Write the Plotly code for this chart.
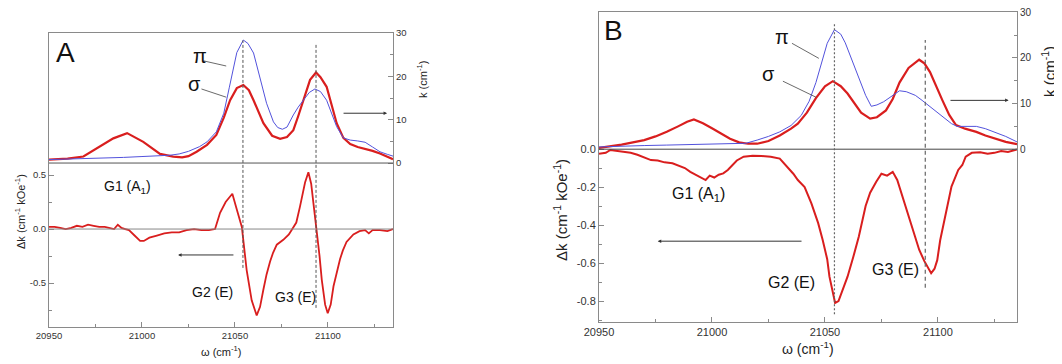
import plotly.graph_objects as go

# ---------------- Data: panel A ----------------
a_sig_w = [20950, 20960, 20968.5, 20977.4, 20984.6, 20992, 21000.7, 21009.7, 21016.8, 21021.6, 21025, 21029.4,
           21035, 21040, 21044, 21047.4, 21051, 21054.5, 21057.5, 21060, 21062.5, 21065.3, 21070, 21074.3,
           21078, 21081.4, 21084, 21086.8, 21090.4, 21093.6, 21096, 21099.3, 21102, 21104.7, 21108.3,
           21112, 21116, 21120, 21124, 21128, 21132, 21135]
a_sig_k = [0.8, 1.0, 1.5, 3.8, 5.7, 6.9, 4.9, 2.1, 1.5, 1.3, 1.6, 2.6,
           4.2, 6.5, 10.5, 14.5, 17.3, 18.0, 16.8, 14.5, 12.0, 9.2, 6.3, 5.6,
           6.0, 7.6, 10.8, 14.5, 19.2, 20.9, 19.8, 17.6, 13.5, 9.2, 5.8,
           4.4, 3.7, 3.3, 2.8, 2.2, 1.5, 0.9]

a_pi_w = [20950, 20960, 20970, 20980, 20990, 21000, 21010, 21015, 21020, 21025, 21031, 21035, 21040,
          21044, 21047, 21049, 21051, 21054.5, 21057, 21060, 21063.5, 21067, 21070.7, 21073, 21075.5,
          21078, 21081.4, 21084, 21086.8, 21090, 21093, 21096, 21099.3, 21102, 21104.7, 21108.3,
          21112, 21116, 21120, 21124, 21128, 21132, 21135]
a_pi_k = [0.8, 0.9, 1.0, 1.1, 1.3, 1.5, 1.6, 1.8, 2.1, 2.7, 3.8, 4.9, 7.2,
          11.5, 17.5, 21.8, 25.5, 28.4, 27.6, 25.4, 19.9, 13.8, 9.5, 8.2, 7.8,
          8.3, 11.1, 12.9, 14.5, 16.3, 17.1, 16.5, 14.5, 11.5, 8.4, 5.8,
          5.3, 5.1, 4.8, 3.7, 2.6, 2.0, 1.6]

a_dk_w = [20950, 20953, 20956, 20959, 20962, 20965, 20968, 20971, 20974, 20977, 20980, 20983, 20985, 20987,
          20989, 20991, 20993, 20996, 20999, 21001, 21004, 21008, 21012, 21016, 21020, 21024, 21028,
          21032, 21036, 21039.3, 21042, 21045, 21047.4, 21048.6, 21051, 21053.7, 21056.3, 21059,
          21061.7, 21063.5, 21065.3, 21067, 21068.9, 21070.5, 21072.5, 21076, 21079, 21081, 21083,
          21085, 21087.7, 21089.5, 21091, 21092.2, 21094, 21095.5, 21096.7, 21098.5, 21099.9,
          21101.5, 21103, 21105, 21106.5, 21108, 21110, 21113.7, 21117, 21120, 21122, 21124,
          21128, 21132, 21135]
a_dk = [0.02, 0.02, 0.01, 0.0, 0.01, 0.03, 0.02, 0.04, 0.03, 0.02, 0.02, 0.01, 0.0, 0.04,
        0.01, 0.0, -0.01, -0.06, -0.11, -0.11, -0.08, -0.06, -0.04, -0.03, -0.03, -0.01, 0.0,
        -0.01, -0.01, 0.0, 0.15, 0.25, 0.30, 0.327, 0.18, 0.02, -0.38, -0.66,
        -0.80, -0.72, -0.56, -0.42, -0.30, -0.22, -0.145, -0.10, -0.05, 0.0, 0.06,
        0.21, 0.43, 0.525, 0.42, 0.24, 0.0, -0.25, -0.47, -0.70, -0.78,
        -0.70, -0.53, -0.38, -0.28, -0.20, -0.12, -0.05, -0.02, -0.01, -0.04, -0.01,
        -0.01, -0.02, 0.0]

# ---------------- Data: panel B ----------------
b_sig_w = [20950, 20955, 20960, 20965, 20970, 20975, 20980, 20985, 20989, 20992, 20996, 21000, 21004,
           21008, 21012, 21016, 21020, 21025, 21030, 21035, 21038, 21042, 21046, 21050, 21053.5,
           21057, 21060, 21063, 21066, 21070, 21073, 21077, 21080, 21083, 21087, 21091.7, 21094,
           21096.5, 21099, 21102, 21105, 21108, 21112, 21117, 21121, 21125, 21130, 21135]
b_sig_k = [0.3, 0.6, 1.0, 1.5, 2.0, 2.8, 3.8, 5.0, 6.0, 6.5, 5.7, 4.6, 3.4,
           2.3, 1.5, 1.2, 1.2, 1.8, 3.0, 4.5, 5.6, 8.0, 11.2, 13.8, 14.9,
           13.8, 12.2, 10.0, 8.0, 6.7, 7.0, 8.5, 11.0, 14.6, 17.8, 19.6, 18.8,
           16.9, 14.0, 10.7, 7.5, 5.3, 4.5, 3.8, 3.0, 2.3, 1.6, 1.1]

b_pi_w = [20950, 20960, 20970, 20980, 20990, 21000, 21010, 21015, 21020, 21025, 21030, 21035, 21039.5,
          21043, 21046, 21049, 21051, 21054.2, 21057, 21059, 21062, 21065, 21068, 21070.5, 21073,
          21076, 21080, 21083, 21086, 21090, 21093, 21096.5, 21100, 21103, 21106, 21108.5, 21113,
          21117, 21121, 21125, 21130, 21135]
b_pi_k = [0.5, 0.7, 0.8, 0.9, 1.0, 1.0, 1.1, 1.3, 2.0, 2.8, 3.8, 5.2, 7.4,
          10.5, 14.6, 19.5, 23.2, 26.2, 25.2, 23.3, 19.5, 15.6, 11.8, 9.4, 9.7,
          10.4, 11.8, 12.8, 12.6, 11.8, 10.7, 9.3, 7.8, 6.6, 5.6, 5.0, 5.0,
          5.0, 4.5, 3.8, 2.8, 1.6]

b_dk_w = [20950, 20953, 20955, 20958, 20961, 20964, 20967, 20970, 20973, 20976, 20979, 20982.5, 20985,
          20988, 20990.4, 20993, 20995, 20997.2, 20999, 21001, 21003, 21005, 21007, 21009, 21011,
          21014, 21018, 21022, 21026, 21030, 21033, 21036, 21038, 21041, 21044, 21047, 21049,
          21051, 21052, 21053.5, 21054.5, 21056, 21058, 21060, 21062.5, 21065, 21068, 21070,
          21072.7, 21075, 21077.5, 21080, 21082, 21084.5, 21087, 21089.5, 21091.7, 21094, 21095.5,
          21097, 21098.5, 21099.7, 21101, 21102.8, 21104.5, 21106, 21109, 21110.8, 21112.3, 21115,
          21118.7, 21122, 21125, 21128, 21131, 21135]
b_dk = [-0.025, -0.02, -0.005, -0.01, -0.015, -0.02, -0.03, -0.045, -0.058, -0.06, -0.07, -0.075, -0.085,
        -0.10, -0.12, -0.135, -0.15, -0.163, -0.14, -0.15, -0.135, -0.128, -0.11, -0.084, -0.06,
        -0.04, -0.035, -0.037, -0.04, -0.05, -0.09, -0.13, -0.163, -0.20, -0.286, -0.39, -0.479,
        -0.58, -0.672, -0.76, -0.81, -0.80, -0.74, -0.672, -0.57, -0.46, -0.30, -0.23,
        -0.172, -0.13, -0.14, -0.12, -0.163, -0.26, -0.356, -0.45, -0.53, -0.59, -0.62,
        -0.654, -0.63, -0.585, -0.48, -0.373, -0.28, -0.198, -0.11, -0.084, -0.04, -0.02,
        -0.017, -0.025, -0.02, -0.01, -0.015, -0.002]

x_ticks = [20950, 21000, 21050, 21100]
x_ticktext = ["20950", "21000", "21050", "21100"]
x_minor = [20975, 21025, 21075, 21125]
k_ticks = [0, 10, 20, 30]
k_ticktext = ["0", "10", "20", "30"]
k_minor = [5, 15, 25]
a_dk_ticks = [-0.5, 0.0, 0.5]
a_dk_ticktext = ["-0.5", "0.0", "0.5"]
a_dk_minor = [-0.75, -0.25, 0.25]
b_dk_ticks = [0.0, -0.2, -0.4, -0.6, -0.8]
b_dk_ticktext = ["0.0", "-0.2", "-0.4", "-0.6", "-0.8"]
b_dk_minor = [-0.1, -0.3, -0.5, -0.7, -0.9]

# ---------------- Layout geometry ----------------
# The page body has an 8px margin, so the figure is sized to the remaining window
VW, VH = 1062, 364
OX, OY = 8, 8
W, H = VW - OX, VH - OY
X_RANGE = [20950, 21135]
A_DK_RANGE = [-0.907, 1.815]
A_K_RANGE = [-37.85, 30.02]
B_DK_RANGE = [-0.9105, 0.7215]
B_K_RANGE = [-37.86, 30.06]

RED = "#d91e1e"
BLUE = "#5252dc"
FRAME = "#8a8a8a"
FONT = "Liberation Sans, Arial, sans-serif"


def sx(px):
    return (px - OX) / W


def sy(py):
    return (VH - py) / H


fig = go.Figure()
fig.add_trace(go.Scatter(x=a_sig_w, y=a_sig_k, xaxis="x", yaxis="y2", mode="lines",
                         line=dict(color=RED, width=2.2), name="σ A"))
fig.add_trace(go.Scatter(x=a_pi_w, y=a_pi_k, xaxis="x", yaxis="y2", mode="lines",
                         line=dict(color=BLUE, width=1), name="π A"))
fig.add_trace(go.Scatter(x=a_dk_w, y=a_dk, xaxis="x", yaxis="y", mode="lines",
                         line=dict(color=RED, width=1.8), name="Δk A"))
fig.add_trace(go.Scatter(x=b_sig_w, y=b_sig_k, xaxis="x2", yaxis="y4", mode="lines",
                         line=dict(color=RED, width=2.2), name="σ B"))
fig.add_trace(go.Scatter(x=b_pi_w, y=b_pi_k, xaxis="x2", yaxis="y4", mode="lines",
                         line=dict(color=BLUE, width=1), name="π B"))
fig.add_trace(go.Scatter(x=b_dk_w, y=b_dk, xaxis="x2", yaxis="y3", mode="lines",
                         line=dict(color=RED, width=2), name="Δk B"))

a_xd = [sx(49), sx(393)]
a_yd = [sy(327), sy(33)]
b_xd = [sx(599), sx(1017)]
b_yd = [sy(322), sy(12)]


def xax(domain, anchor, fs):
    return dict(domain=domain, anchor=anchor, range=X_RANGE, tickmode="array", tickvals=x_ticks,
                ticktext=x_ticktext, automargin=False, ticklabeloverflow="allow",
                ticks="inside", ticklen=5, tickcolor=FRAME, showline=True, linecolor=FRAME,
                mirror=True, showgrid=False, zeroline=False,
                tickfont=dict(size=fs, color="#333", family=FONT),
                minor=dict(tickmode="array", tickvals=x_minor, ticks="inside", ticklen=3,
                           tickcolor=FRAME))


def yax(domain, anchor, rng, tv, tt, mv, fs, side="left", overlaying=None):
    d = dict(domain=domain, anchor=anchor, range=rng, tickmode="array", tickvals=tv, ticktext=tt,
             automargin=False, ticklabeloverflow="allow",
             ticks="inside", ticklen=5, tickcolor=FRAME, showline=True, linecolor=FRAME,
             showgrid=False, zeroline=False, side=side,
             tickfont=dict(size=fs, color="#333", family=FONT),
             minor=dict(tickmode="array", tickvals=mv, ticks="inside", ticklen=3, tickcolor=FRAME))
    if overlaying:
        d["overlaying"] = overlaying
    return d


fig.update_layout(
    width=W, height=H, margin=dict(l=0, r=0, t=0, b=0, autoexpand=False),
    paper_bgcolor="white", plot_bgcolor="white", showlegend=False,
    font=dict(family=FONT, color="#222"),
    xaxis=xax(a_xd, "y", 9.5),
    yaxis=yax(a_yd, "x", A_DK_RANGE, a_dk_ticks, a_dk_ticktext, a_dk_minor, 9.5),
    yaxis2=yax(a_yd, "x", A_K_RANGE, k_ticks, k_ticktext, k_minor, 9.5,
               side="right", overlaying="y"),
    xaxis2=xax(b_xd, "y3", 11),
    yaxis3=yax(b_yd, "x2", B_DK_RANGE, b_dk_ticks, b_dk_ticktext, b_dk_minor, 11),
    yaxis4=yax(b_yd, "x2", B_K_RANGE, k_ticks, k_ticktext, k_minor, 10,
               side="right", overlaying="y3"),
)
fig.layout.yaxis.mirror = True
fig.layout.yaxis3.mirror = True


def frac(v, rng):
    return (v - rng[0]) / (rng[1] - rng[0])


shapes = []
# zero lines
shapes.append(dict(type="line", xref="x", yref="y2", x0=X_RANGE[0], x1=X_RANGE[1], y0=0, y1=0,
                   line=dict(color="#555", width=1)))
shapes.append(dict(type="line", xref="x", yref="y", x0=X_RANGE[0], x1=X_RANGE[1], y0=0, y1=0,
                   line=dict(color="#888", width=1)))
shapes.append(dict(type="line", xref="x2", yref="y4", x0=X_RANGE[0], x1=X_RANGE[1], y0=0, y1=0,
                   line=dict(color="#444", width=1)))

# vertical reference lines: (x, top k value, bottom Δk value)
a_vlines = [(21054.3, 28.3, -0.36, "dash"), (21093.6, 27.7, -0.73, "dash")]
b_vlines = [(21054.2, 27.4, -0.87, "dot"), (21094.4, 23.9, -0.73, "dash")]
for xv, ktop, dkb, dash in a_vlines:
    shapes.append(dict(type="line", xref="x", yref="y domain", x0=xv, x1=xv,
                       y0=frac(dkb, A_DK_RANGE), y1=frac(ktop, A_K_RANGE),
                       line=dict(color="#555", width=1, dash="3px,2px")))
for xv, ktop, dkb, dash in b_vlines:
    shapes.append(dict(type="line", xref="x2", yref="y3 domain", x0=xv, x1=xv,
                       y0=frac(dkb, B_DK_RANGE), y1=frac(ktop, B_K_RANGE),
                       line=dict(color="#666", width=1.2,
                                 dash=("2px,2px" if dash == "dot" else "4px,3px"))))

# leader lines for π / σ labels (in k units)
shapes.append(dict(type="line", xref="x", yref="y2", x0=21033, x1=21045.3, y0=23.6, y1=22.4,
                   line=dict(color="#444", width=0.8)))
shapes.append(dict(type="line", xref="x", yref="y2", x0=21032, x1=21045.3, y0=17.1, y1=15.2,
                   line=dict(color="#444", width=0.8)))
shapes.append(dict(type="line", xref="x2", yref="y4", x0=21035.4, x1=21047.3, y0=23.2, y1=19.9,
                   line=dict(color="#444", width=0.8)))
shapes.append(dict(type="line", xref="x2", yref="y4", x0=21031.4, x1=21046, y0=14.9, y1=11.4,
                   line=dict(color="#444", width=0.8)))
fig.update_layout(shapes=shapes)

ann = []


def txt(x, y, xref, yref, text, size, **kw):
    d = dict(x=x, y=y, xref=xref, yref=yref, text=text, showarrow=False,
             font=dict(size=size, family=FONT, color="#111"))
    d.update(kw)
    ann.append(d)


def arrow(x, y, ax, xref, yref):
    ann.append(dict(x=x, y=y, ax=ax, ay=y, xref=xref, yref=yref, axref=xref, ayref=yref,
                    showarrow=True, arrowhead=2, arrowsize=0.7, arrowwidth=1,
                    arrowcolor="#333", text="", font=dict(size=10)))


# Panel A labels
txt(20959, 25.5, "x", "y2", "A", 28)
txt(21031.2, 24.8, "x", "y2", "π", 20)
txt(21028.5, 18.2, "x", "y2", "σ", 20)
txt(20992, 0.39, "x", "y", "G1 (A<sub>1</sub>)", 14)
txt(21037.7, -0.583, "x", "y", "G2 (E)", 14)
txt(21082.3, -0.63, "x", "y", "G3 (E)", 14)
arrow(21131.8, 11.5, 21107.6, "x", "y2")
arrow(21019.4, -0.24, 21050, "x", "y")

# Panel B labels
txt(20956.2, 26.0, "x2", "y4", "B", 28)
txt(21030.8, 24.5, "x2", "y4", "π", 20)
txt(21025.2, 16.4, "x2", "y4", "σ", 20)
txt(20994.2, -0.237, "x2", "y3", "G1 (A<sub>1</sub>)", 16)
txt(21035, -0.70, "x2", "y3", "G2 (E)", 16)
txt(21081.4, -0.632, "x2", "y3", "G3 (E)", 16)
arrow(21131.3, 10.7, 21104.9, "x2", "y4")
arrow(20976, -0.485, 21040.3, "x2", "y3")


# Axis titles (positions in window pixels)
def ptxt(px, py, text, size, angle=0):
    ann.append(dict(x=sx(px), y=sy(py), xref="paper", yref="paper", text=text,
                    showarrow=False, textangle=angle, xanchor="center", yanchor="middle",
                    font=dict(size=size, family=FONT, color="#222")))


ptxt(20, 212, "Δk (cm<sup>-1</sup> kOe<sup>-1</sup>)", 11, -90)
ptxt(422, 80, "k (cm<sup>-1</sup>)", 11, -90)
ptxt(221, 351, "ω (cm<sup>-1</sup>)", 11)
ptxt(561, 210, "Δk (cm<sup>-1</sup> kOe<sup>-1</sup>)", 15, -90)
ptxt(1048, 72, "k (cm<sup>-1</sup>)", 15, -90)
ptxt(808, 348, "ω (cm<sup>-1</sup>)", 14)

fig.update_layout(annotations=ann)
fig.write_html("out.html")
